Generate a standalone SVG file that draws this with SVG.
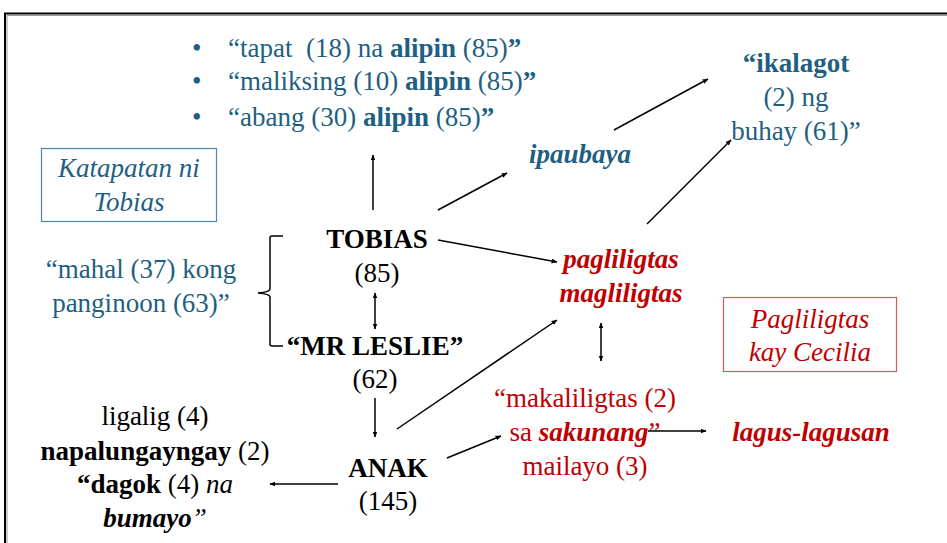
<svg xmlns="http://www.w3.org/2000/svg" width="947" height="543" viewBox="0 0 947 543">
<defs>
<marker id="ah" viewBox="0 0 10 10" refX="9" refY="5" markerWidth="6" markerHeight="6" orient="auto-start-reverse" markerUnits="userSpaceOnUse">
<path d="M0,1 L10,5 L0,9 z" fill="#000"/>
</marker>
<style>
text{font-family:'Liberation Serif','Times New Roman',serif;font-size:27px;}
.c{text-anchor:middle;}
.blue{fill:#1F5F82;}
.red{fill:#C00000;}
.blk{fill:#000;}
.b{font-weight:bold;}
.i{font-style:italic;}
.ln{stroke:#000;stroke-width:1.5;fill:none;}
.ar{stroke:#000;stroke-width:1.5;fill:none;marker-end:url(#ah);}
.ar2{stroke:#000;stroke-width:1.5;fill:none;marker-end:url(#ah);marker-start:url(#ah);}
</style>
</defs>
<rect x="0" y="0" width="947" height="543" fill="#fff"/>
<path d="M5,548 L5,13.5 L952,13.5" fill="none" stroke="#000" stroke-width="2"/>
<path d="M7,548 L7,15.5 L952,15.5" fill="none" stroke="#999" stroke-width="1"/>

<g id="bullets" class="blue">
<text x="192" y="57">•</text>
<text x="192" y="90">•</text>
<text x="192" y="126">•</text>
<text x="228" y="57" xml:space="preserve">“tapat  (18) na <tspan class="b">alipin</tspan> (85)<tspan class="b">”</tspan></text>
<text x="228" y="90">“maliksing (10) <tspan class="b">alipin</tspan> (85)<tspan class="b">”</tspan></text>
<text x="228" y="126">“abang (30) <tspan class="b">alipin</tspan> (85)<tspan class="b">”</tspan></text>
</g>

<g id="ikalagot" class="blue c">
<text x="796" y="72" class="b">“ikalagot</text>
<text x="796" y="106">(2) ng</text>
<text x="796" y="140">buhay (61)”</text>
</g>

<g id="katapatan">
<rect x="41.5" y="148.5" width="175" height="73" fill="none" stroke="#4A87AD" stroke-width="1.2"/>
<text x="129" y="177" class="blue c i">Katapatan ni</text>
<text x="129" y="211" class="blue c i">Tobias</text>
</g>

<g id="mahal" class="blue c">
<text x="141" y="278">“mahal (37) kong</text>
<text x="141" y="312">panginoon (63)”</text>
</g>

<g id="tobias" class="blk c">
<text x="377" y="248" class="b">TOBIAS</text>
<text x="377" y="282">(85)</text>
</g>

<g id="mrleslie" class="blk c">
<text x="375" y="355" class="b">“MR LESLIE”</text>
<text x="375" y="388">(62)</text>
</g>

<g id="anak" class="blk c">
<text x="388" y="477" class="b">ANAK</text>
<text x="388" y="510">(145)</text>
</g>

<g id="ligalig" class="blk c">
<text x="155" y="425">ligalig (4)</text>
<text x="155" y="460"><tspan class="b">napalungayngay</tspan> (2)</text>
<text x="155" y="493"><tspan class="b">“dagok</tspan> (4) <tspan class="i">na</tspan></text>
<text x="155" y="527"><tspan class="b i">bumayo</tspan><tspan class="i">”</tspan></text>
</g>

<g id="ipaubaya">
<text x="580" y="163" class="blue c b i">ipaubaya</text>
</g>

<g id="pagliligtas" class="red c b i">
<text x="621" y="268">pagliligtas</text>
<text x="621" y="302">magliligtas</text>
</g>

<g id="makaliligtas" class="red c">
<text x="585" y="407">“makaliligtas (2)</text>
<text x="585" y="441">sa <tspan class="b i">sakunang</tspan>”</text>
<text x="585" y="475">mailayo (3)</text>
</g>

<g id="lagus">
<text x="811" y="441" class="red c b i">lagus-lagusan</text>
</g>

<g id="cecilia">
<rect x="723.5" y="297.5" width="173" height="74" fill="none" stroke="#D9585F" stroke-width="1.2"/>
<text x="810" y="328" class="red c i">Pagliligtas</text>
<text x="810" y="361" class="red c i">kay Cecilia</text>
</g>

<g id="connectors">
<path class="ln" d="M283,236 L272,236 Q270,236 270,238 L270,289 Q270,292 258,293 Q270,294 270,297 L270,344 Q270,346 272,346 L283,346"/>
<line class="ar" x1="373" y1="210" x2="373" y2="155"/>
<line class="ar" x1="438" y1="210" x2="507" y2="173"/>
<line class="ar" x1="438" y1="240" x2="557" y2="262"/>
<line class="ar" x1="614" y1="130" x2="708" y2="79"/>
<line class="ar" x1="647" y1="224" x2="731" y2="140"/>
<line class="ar2" x1="375" y1="293" x2="375" y2="329"/>
<line class="ar" x1="375" y1="398" x2="375" y2="437"/>
<line class="ar" x1="338" y1="484" x2="270" y2="484"/>
<line class="ar" x1="397" y1="429" x2="557" y2="320"/>
<line class="ar" x1="447" y1="458" x2="501" y2="436"/>
<line class="ar2" x1="601" y1="323" x2="601" y2="361"/>
<line class="ar" x1="648" y1="431" x2="706" y2="431"/>
</g>
</svg>
